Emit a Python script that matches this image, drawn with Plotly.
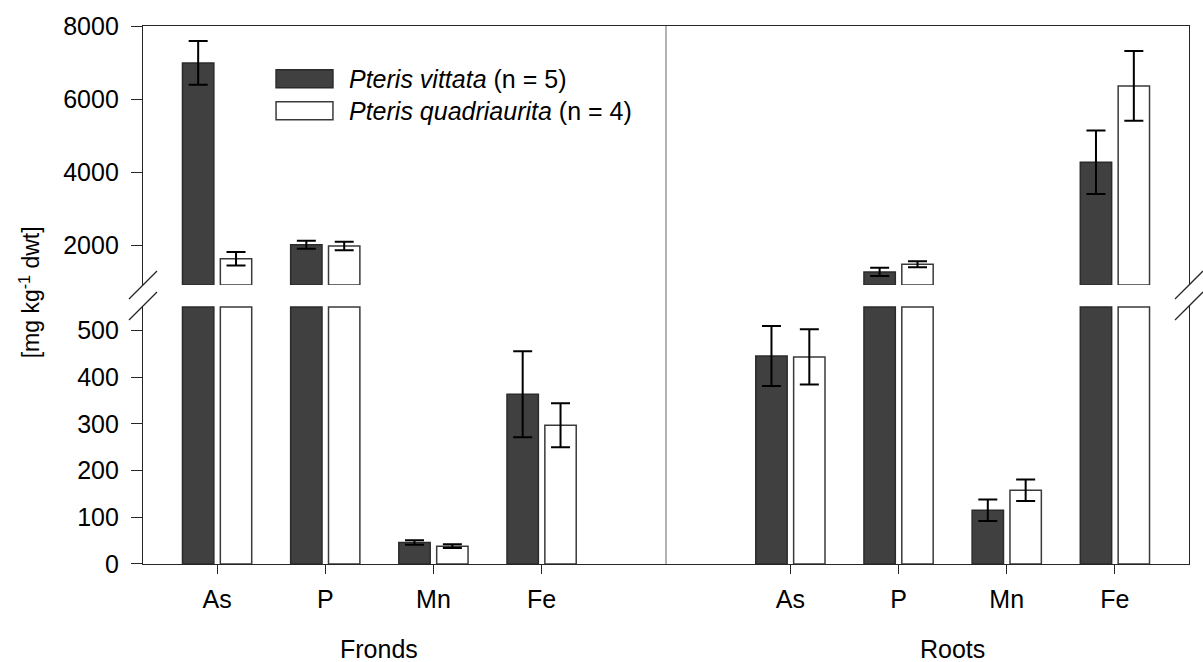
import numpy as np
import plotly.graph_objects as go

# ---- data -------------------------------------------------------------
elements = ["As", "P", "Mn", "Fe"]
groups = ["Fronds", "Roots"]

# mean concentrations (mg kg-1 dwt), fronds then roots
vittata_fronds = [6990, 2010, 46, 363]
vittata_roots = [445, 1265, 115, 4270]
quadri_fronds = [1625, 1975, 38, 297]
quadri_roots = [443, 1475, 158, 6360]

# standard errors
vittata_fronds_err = [600, 110, 5, 92]
vittata_roots_err = [64, 113, 23, 870]
quadri_fronds_err = [185, 115, 4, 47]
quadri_roots_err = [59, 82, 23, 955]

series_names = ["Pteris vittata (n = 5)", "Pteris quadriaurita (n = 4)"]
n_labels = ["(n = 5)", "(n = 4)"]
species = ["Pteris vittata", "Pteris quadriaurita"]

# ---- layout constants ---------------------------------------------------
ROOT_OFFSET = 5.3          # x position of the first root element
BAR_W = 0.29
BAR_SHIFT = 0.175
LOW_RANGE = [0, 552]       # lower (broken) y segment
LOW_CAP = 550
UP_RANGE = [906, 8000]     # upper y segment
UP_BASE = 910
LOW_DOMAIN = [0, 0.4796]
UP_DOMAIN = [0.5185, 1]

FONT = "Liberation Sans, Arial, sans-serif"
FS = 25
DARK = "#404040"
EDGE = "#2b2b2b"
AXC = "#262626"

pos = np.concatenate([np.arange(4), np.arange(4) + ROOT_OFFSET])
vals = [np.array(vittata_fronds + vittata_roots, float),
        np.array(quadri_fronds + quadri_roots, float)]
errs = [np.array(vittata_fronds_err + vittata_roots_err, float),
        np.array(quadri_fronds_err + quadri_roots_err, float)]
fills = [DARK, "white"]
edges = [EDGE, "#3a3a3a"]
shifts = [-BAR_SHIFT, BAR_SHIFT]

fig = go.Figure()

for k in range(2):
    x = pos + shifts[k]
    v, e = vals[k], errs[k]
    marker = dict(color=fills[k], line=dict(color=edges[k], width=1.5))
    err_style = dict(type="data", symmetric=True, color="black",
                     thickness=2, width=9.5)

    # lower segment: bars that end inside the segment carry error bars
    inside = v <= LOW_CAP
    fig.add_trace(go.Bar(x=x[inside], y=v[inside], width=BAR_W, marker=marker,
                         error_y=dict(array=e[inside], **err_style),
                         xaxis="x", yaxis="y", name=series_names[k],
                         showlegend=False))
    # lower segment: bars running through the break are cut at the cap
    fig.add_trace(go.Bar(x=x[~inside], y=np.minimum(v[~inside], LOW_CAP),
                         width=BAR_W, marker=marker,
                         xaxis="x", yaxis="y", name=series_names[k],
                         showlegend=False))
    # upper segment: bars continuing above the break
    above = v > UP_BASE
    fig.add_trace(go.Bar(x=x[above], y=v[above] - UP_BASE, base=UP_BASE,
                         width=BAR_W, marker=marker,
                         error_y=dict(array=e[above], **err_style),
                         xaxis="x2", yaxis="y2", name=series_names[k],
                         showlegend=False))

tick_text = elements + elements

fig.update_layout(
    width=1203, height=662,
    margin=dict(l=143, r=14, t=24, b=98),
    paper_bgcolor="white", plot_bgcolor="white",
    barmode="overlay",
    font=dict(family=FONT, size=FS, color="black"),
    xaxis=dict(range=[-0.685, 3 + ROOT_OFFSET + 0.685], anchor="y",
               tickvals=list(pos), ticktext=tick_text,
               ticks="outside", ticklen=9, tickwidth=1.3, tickcolor=AXC,
               showline=True, linecolor=AXC, linewidth=1.3, mirror=False,
               showgrid=False, zeroline=False, ticklabelstandoff=4,
               tickfont=dict(size=FS)),
    xaxis2=dict(matches="x", anchor="y2", side="top",
                showticklabels=False, ticks="",
                showline=True, linecolor=AXC, linewidth=1.3,
                showgrid=False, zeroline=False),
    yaxis=dict(domain=LOW_DOMAIN, range=LOW_RANGE, anchor="x",
               tickvals=[0, 100, 200, 300, 400, 500],
               ticks="outside", ticklen=11, tickwidth=1.3, tickcolor=AXC,
               showline=True, linecolor=AXC, linewidth=1.3, mirror=True,
               showgrid=False, zeroline=False, ticklabelstandoff=7,
               tickfont=dict(size=FS)),
    yaxis2=dict(domain=UP_DOMAIN, range=UP_RANGE, anchor="x2",
                tickvals=[2000, 4000, 6000, 8000],
                ticks="outside", ticklen=11, tickwidth=1.3, tickcolor=AXC,
                showline=True, linecolor=AXC, linewidth=1.3, mirror=True,
                showgrid=False, zeroline=False, ticklabelstandoff=7,
                tickfont=dict(size=FS)),
)

# separator between fronds and roots
fig.add_shape(type="line", xref="x", yref="paper",
              x0=(3 + ROOT_OFFSET) / 2, x1=(3 + ROOT_OFFSET) / 2, y0=0, y1=1,
              line=dict(color="#a0a0a0", width=1.6), layer="below")

# axis-break slashes on both sides, at the end of each segment
for xp in (0, 1):
    for yref, ya in (("y2 domain", 0), ("y domain", 1)):
        fig.add_shape(type="line", xref="paper", yref=yref,
                      xsizemode="pixel", ysizemode="pixel",
                      xanchor=xp, yanchor=ya,
                      x0=-14, x1=14, y0=-14, y1=14,
                      line=dict(color=AXC, width=1.3))

# group labels under the element names
for gi, g in enumerate(groups):
    fig.add_annotation(x=float(np.mean(pos[gi * 4:(gi + 1) * 4])), xref="x",
                       y=-0.158, yref="paper", text=g, showarrow=False,
                       font=dict(size=FS), yanchor="middle",
                       height=26, valign="middle", borderpad=0)

# y-axis title
fig.add_annotation(x=-0.108, xref="paper", y=0.505, yref="paper",
                   text="[mg kg<sup>-1</sup> dwt]", textangle=-90,
                   showarrow=False, font=dict(size=23),
                   xanchor="center", yanchor="middle")

# legend: wide swatches with italic species names
leg_rows = [(0.9185, 0.885, 0.9019), (0.8593, 0.8259, 0.8426)]
for k, (ytop, ybot, ytxt) in enumerate(leg_rows):
    fig.add_shape(type="rect", xref="paper", yref="paper",
                  x0=0.1272, x1=0.1816, y0=ybot, y1=ytop,
                  fillcolor=fills[k], line=dict(color=edges[k], width=1.5))
    fig.add_annotation(x=0.1955, xref="paper", y=ytxt, yref="paper",
                       text=f"<i>{species[k]}</i> {n_labels[k]}",
                       showarrow=False, xanchor="left", yanchor="middle",
                       font=dict(size=FS))

fig.write_html("out.html")
